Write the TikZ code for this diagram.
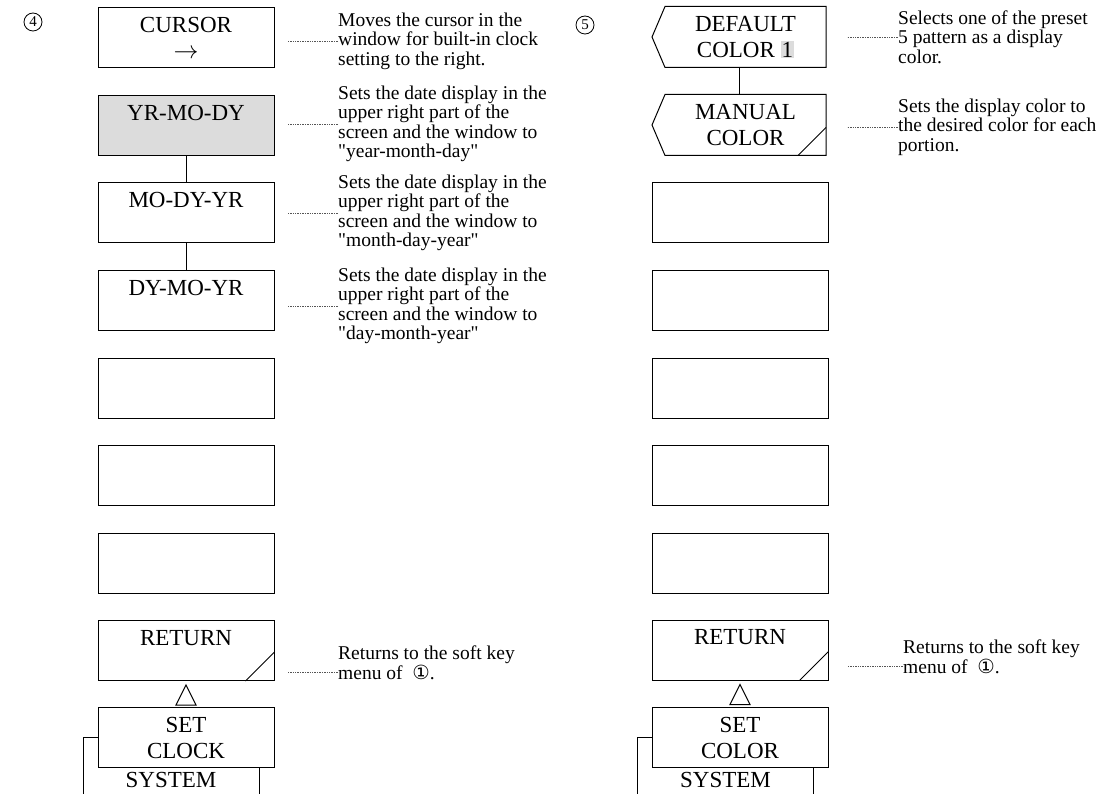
\documentclass[tikz,border=0pt]{standalone}
\usepackage{fontspec}
\setmainfont{Liberation Serif}
\newfontfamily\circfont{DejaVu Sans}
\usepackage{tikz}
\usetikzlibrary{calc}
\definecolor{shade}{HTML}{DCDCDC}
\definecolor{leadc}{HTML}{555555}
\newcommand{\circnum}[1]{{\circfont #1}}
\newcommand{\qq}{\textquotedbl}

\begin{document}
\begin{tikzpicture}[x=1pt,y=-1pt,
  key/.style={draw,line width=1pt,fill=white,minimum width=176pt,minimum height=60pt,
              inner sep=0pt,align=center,font=\fontsize{23}{26}\selectfont},
  tag/.style={key,draw=none,minimum width=160pt},
  desc/.style={anchor=west,inner sep=0pt,align=left,font=\fontsize{19.5}{19.5}\selectfont},
  lead/.style={densely dotted,line width=0.7pt,leadc},
  num/.style={draw,circle,line width=0.8pt,minimum size=18pt,inner sep=0pt,
              font=\fontsize{15}{15}\selectfont}]
\path[use as bounding box,clip] (0,0) rectangle (1110,794);

\node[num] (n4) at (33,22) {4};
\node[key] (cur) at (186,38) {CURSOR\\$\rightarrow$};
\node[key,fill=shade] (ymd) at (186,125.5) {YR-MO-DY\\\mbox{}};
\node[key] (mdy) at (186,213) {MO-DY-YR\\\mbox{}};
\node[key] (dmy) at (186,300.5) {DY-MO-YR\\\mbox{}};
\foreach \i/\y in {1/388,2/475.5,3/563}
  \node[key] (blL\i) at (186,\y) {};
\node[key] (retL) at (186,650.5) {RETURN\\\mbox{}};
\node[key] (sysL) at (171,767) {};
\node[key] (clk) at (186,737.5) {SET\\CLOCK};
\node[inner sep=0pt,font=\fontsize{23}{26}\selectfont] (sysLt) at (171,780) {SYSTEM};
\draw[line width=1pt] (ymd) -- (mdy) (mdy) -- (dmy);
\draw[line width=1pt] ($(retL.south east)+(-29,0)$) -- ($(retL.south east)+(0,-29)$);
\draw[line width=1pt] ($(retL.south)+(0,4)$) -- ($(retL.south)+(10,24)$)
  -- ($(retL.south)+(-10,24)$) -- cycle;

\node[desc] (tcur) at (338,41) {Moves the cursor in the\\window for built-in clock\\setting to the right.};
\node[desc] (tymd) at (338,124) {Sets the date display in the\\upper right part of the\\screen and the window to\\\qq year-month-day\qq};
\node[desc] (tmdy) at (338,213) {Sets the date display in the\\upper right part of the\\screen and the window to\\\qq month-day-year\qq};
\node[desc] (tdmy) at (338,306) {Sets the date display in the\\upper right part of the\\screen and the window to\\\qq day-month-year\qq};
\node[desc] (tretL) at (338,663) {Returns to the soft key\\menu of \ \circnum{①}.};
\foreach \t/\b in {tcur/cur,tymd/ymd,tmdy/mdy,tdmy/dmy}
  \draw[lead] (\t.west) -- ([xshift=13pt]\t.west -| \b.east);
\draw[lead] ([yshift=-9pt]tretL.west) -- ([yshift=-9pt,xshift=13pt]tretL.west -| retL.east);

\node[num] (n5) at (585,25) {5};
\node[tag] (dflt) at (745.5,37) {DEFAULT\\COLOR {\setlength\fboxsep{1pt}\colorbox{shade}{1}}};
\node[tag] (man) at (745.5,125) {MANUAL\\COLOR};
\foreach \n in {dflt,man}
  \draw[line width=1pt] (\n.north west) -- ($(\n.west)+(-13,0)$) -- (\n.south west)
    -- (\n.south east) -- (\n.north east) -- cycle;
\draw[line width=1pt] ($(dflt.south)+(-6,0)$) -- ($(man.north)+(-6,0)$);
\draw[line width=1pt] ($(man.south east)+(-28,0)$) -- ($(man.south east)+(0,-28)$);
\foreach \i/\y in {1/213,2/300.5,3/388,4/475.5,5/563}
  \node[key] (blR\i) at (740,\y) {};
\node[key] (retR) at (740,650) {RETURN\\\mbox{}};
\node[key] (sysR) at (725.5,767) {};
\node[key] (col) at (740,737.5) {SET\\COLOR};
\node[inner sep=0pt,font=\fontsize{23}{26}\selectfont] (sysRt) at (725.5,780) {SYSTEM};
\draw[line width=1pt] ($(retR.south east)+(-29,0)$) -- ($(retR.south east)+(0,-29)$);
\draw[line width=1pt] ($(retR.south)+(0,4)$) -- ($(retR.south)+(10,24)$)
  -- ($(retR.south)+(-10,24)$) -- cycle;

\node[desc] (tdflt) at (898,37) {Selects one of the preset\\5 pattern as a display\\color.};
\node[desc] (tman) at (898,127) {Sets the display color to\\the desired color for each\\portion.};
\node[desc] (tretR) at (903,657) {Returns to the soft key\\menu of \ \circnum{①}.};
\foreach \t/\b in {tdflt/dflt,tman/man}
  \draw[lead] (\t.west) -- ([xshift=21pt]\t.west -| \b.east);
\draw[lead] ([yshift=-9pt]tretR.west) -- ([yshift=-9pt,xshift=19pt]tretR.west -| retR.east);
\end{tikzpicture}
\end{document}
